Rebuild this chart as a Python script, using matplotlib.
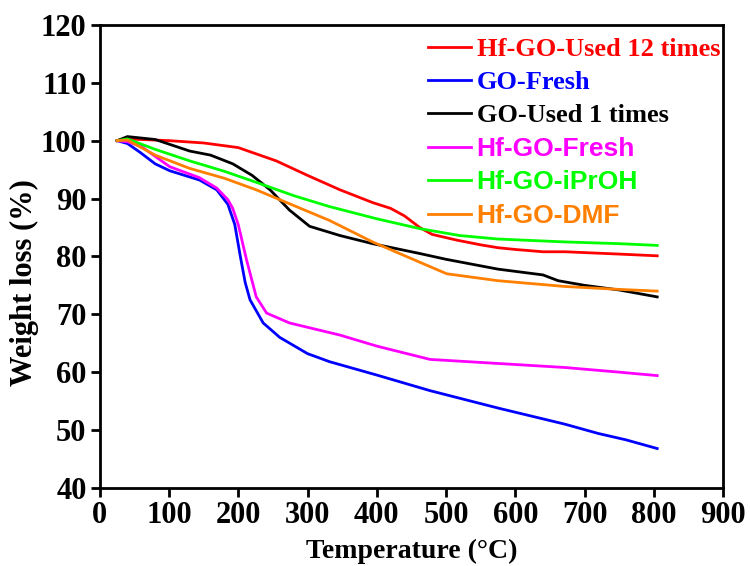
import numpy as np
import matplotlib.pyplot as plt

# TGA curves: temperature (C) and weight (%)
t_red = [25, 40, 100, 150, 200, 255, 300, 347, 394, 420, 440, 462, 480, 516, 550, 575, 600, 640, 672, 750, 805]
w_red = [100, 100.3, 100, 99.6, 98.8, 96.5, 94, 91.5, 89.3, 88.3, 87, 85, 83.8, 82.8, 82, 81.5, 81.2, 80.8, 80.8, 80.4, 80.1]

t_blue = [25, 40, 58, 80, 101, 144, 169, 185, 195, 203, 210, 217, 236, 260, 300, 332, 400, 477, 575, 672, 720, 760, 805]
w_blue = [100, 99.5, 98, 96, 94.8, 93.2, 91.5, 89, 85.5, 80, 75.5, 72.5, 68.5, 66, 63.2, 61.8, 59.5, 56.8, 53.8, 51, 49.4, 48.3, 46.8]

t_black = [25, 40, 80, 130, 160, 192, 220, 246, 274, 303, 347, 394, 462, 500, 575, 640, 662, 700, 750, 805]
w_black = [100, 100.7, 100.2, 98.2, 97.5, 96, 94, 91.5, 88, 85.2, 83.6, 82.2, 80.5, 79.5, 77.8, 76.8, 75.8, 75, 74.2, 73]

t_mag = [25, 40, 60, 101, 144, 169, 185, 192, 200, 212, 226, 241, 274, 347, 400, 477, 575, 672, 750, 805]
w_mag = [100, 99.8, 99, 95.5, 93.6, 91.8, 89.8, 88.3, 85.5, 79.4, 73, 70.2, 68.5, 66.4, 64.5, 62.2, 61.5, 60.8, 60, 59.4]

t_green = [25, 40, 80, 130, 180, 226, 280, 332, 400, 462, 520, 575, 672, 750, 805]
w_green = [100, 100.3, 98.5, 96.5, 94.7, 92.8, 90.5, 88.6, 86.5, 84.8, 83.6, 83, 82.5, 82.2, 81.9]

t_orange = [25, 40, 80, 130, 180, 226, 280, 332, 394, 462, 501, 575, 672, 750, 805]
w_orange = [100, 100.1, 97.5, 95.2, 93.5, 91.5, 88.8, 86.2, 82.5, 79, 77, 75.8, 74.8, 74.3, 74]

labels = ['Hf-GO-Used 12 times', 'GO-Fresh', 'GO-Used 1 times',
          'Hf-GO-Fresh', 'Hf-GO-iPrOH', 'Hf-GO-DMF']
colors = ['#ff0000', '#0000ff', '#000000', '#ff00ff', '#00ff00', '#ff8000']

plt.rcParams['font.family'] = 'Liberation Serif'
plt.rcParams['font.weight'] = 'bold'

fig = plt.figure(figsize=(7.5, 5.66), dpi=100)
ax = fig.add_axes([0.133, 0.138, 0.831, 0.818])

series = [(t_red, w_red), (t_blue, w_blue), (t_black, w_black),
          (t_mag, w_mag), (t_green, w_green), (t_orange, w_orange)]
for (t, w), c, lab in zip(series, colors, labels):
    ax.plot(t, w, color=c, lw=2.0, label=lab)

ax.set_xlim(0, 900)
ax.set_ylim(40, 120)
ax.set_xticks(np.arange(0, 901, 100))
ax.set_yticks(np.arange(40, 121, 10))
for s in ax.spines.values():
    s.set_linewidth(2.0)
ax.tick_params(direction='out', length=6.5, width=2.0, labelsize=22, pad=3)
ax.set_xlabel('Temperature (°C)', fontsize=20, fontweight='bold')
ax.set_ylabel('Weight loss (%)', fontsize=22, fontweight='bold')
ax.xaxis.set_label_coords(0.5, -0.11)
ax.yaxis.set_label_coords(-0.097, 0.443)

leg = ax.legend(loc='upper left', bbox_to_anchor=(0.5265, 0.972), frameon=False,
                fontsize=19, handlelength=1.65, handletextpad=0.2,
                labelspacing=0.36, borderaxespad=0, borderpad=0)
for txt, c in zip(leg.get_texts(), colors):
    txt.set_color(c)
for txt in leg.get_texts()[3:]:
    txt.set_fontfamily('Liberation Sans')

fig.savefig('out.png', dpi=100)
